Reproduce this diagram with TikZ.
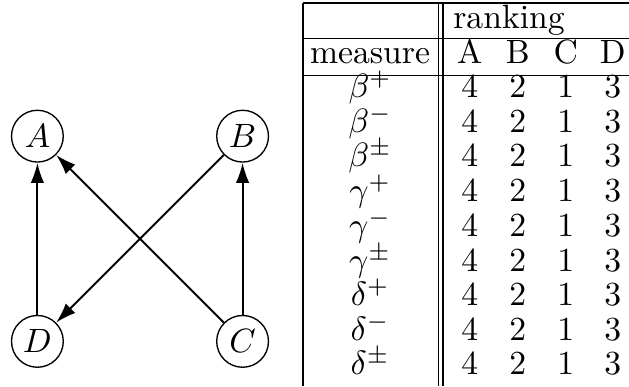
\documentclass[tikz,border=0pt]{standalone}
\usetikzlibrary{arrows.meta}

\begin{document}
\begin{tikzpicture}[x=1cm,y=1cm,
  vertex/.style={draw,circle,thin,minimum size=0.54cm,inner sep=0pt},
  link/.style={line width=0.6pt,-{Latex[length=6pt,width=4pt]}},
  cell/.style={anchor=base,inner sep=0pt}]
\path[use as bounding box] (0,0) rectangle (6.56,4.03);
% graph
\node[vertex] (A) at (0.39,2.61) {$A$};
\node[vertex] (B) at (2.53,2.61) {$B$};
\node[vertex] (D) at (0.39,0.47) {$D$};
\node[vertex] (C) at (2.53,0.47) {$C$};
\draw[link] (D) -- (A);
\draw[link] (C) -- (B);
\draw[link] (C) -- (A);
\draw[link] (B) -- (D);
% table rules
\draw (3.16,4.00) -- (6.56,4.00);
\draw (3.16,3.63) -- (6.56,3.63);
\draw (3.16,3.24) -- (6.56,3.24);
\draw (3.16,4.00) -- (3.16,0);
\draw (4.57,4.00) -- (4.57,0);
\draw (4.62,4.00) -- (4.62,0);
% header
\node[cell,anchor=base west] (rank) at (4.72,3.73) {ranking};
\node[cell] (meas) at (3.86,3.37) {measure};
\node[cell] (hA) at (4.90,3.37) {A};
\node[cell] (hB) at (5.40,3.37) {B};
\node[cell] (hC) at (5.90,3.37) {C};
\node[cell] (hD) at (6.39,3.37) {D};
% rows
\node[cell] (m1) at (3.86,3.01) {$\beta^{+}$};
\node[cell] (a1) at (4.90,3.01) {4}; \node[cell] (b1) at (5.40,3.01) {2}; \node[cell] (c1) at (5.90,3.01) {1}; \node[cell] (d1) at (6.39,3.01) {3};
\node[cell] (m2) at (3.86,2.65) {$\beta^{-}$};
\node[cell] (a2) at (4.90,2.65) {4}; \node[cell] (b2) at (5.40,2.65) {2}; \node[cell] (c2) at (5.90,2.65) {1}; \node[cell] (d2) at (6.39,2.65) {3};
\node[cell] (m3) at (3.86,2.29) {$\beta^{\pm}$};
\node[cell] (a3) at (4.90,2.29) {4}; \node[cell] (b3) at (5.40,2.29) {2}; \node[cell] (c3) at (5.90,2.29) {1}; \node[cell] (d3) at (6.39,2.29) {3};
\node[cell] (m4) at (3.86,1.93) {$\gamma^{+}$};
\node[cell] (a4) at (4.90,1.93) {4}; \node[cell] (b4) at (5.40,1.93) {2}; \node[cell] (c4) at (5.90,1.93) {1}; \node[cell] (d4) at (6.39,1.93) {3};
\node[cell] (m5) at (3.86,1.56) {$\gamma^{-}$};
\node[cell] (a5) at (4.90,1.56) {4}; \node[cell] (b5) at (5.40,1.56) {2}; \node[cell] (c5) at (5.90,1.56) {1}; \node[cell] (d5) at (6.39,1.56) {3};
\node[cell] (m6) at (3.86,1.20) {$\gamma^{\pm}$};
\node[cell] (a6) at (4.90,1.20) {4}; \node[cell] (b6) at (5.40,1.20) {2}; \node[cell] (c6) at (5.90,1.20) {1}; \node[cell] (d6) at (6.39,1.20) {3};
\node[cell] (m7) at (3.86,0.84) {$\delta^{+}$};
\node[cell] (a7) at (4.90,0.84) {4}; \node[cell] (b7) at (5.40,0.84) {2}; \node[cell] (c7) at (5.90,0.84) {1}; \node[cell] (d7) at (6.39,0.84) {3};
\node[cell] (m8) at (3.86,0.48) {$\delta^{-}$};
\node[cell] (a8) at (4.90,0.48) {4}; \node[cell] (b8) at (5.40,0.48) {2}; \node[cell] (c8) at (5.90,0.48) {1}; \node[cell] (d8) at (6.39,0.48) {3};
\node[cell] (m9) at (3.86,0.12) {$\delta^{\pm}$};
\node[cell] (a9) at (4.90,0.12) {4}; \node[cell] (b9) at (5.40,0.12) {2}; \node[cell] (c9) at (5.90,0.12) {1}; \node[cell] (d9) at (6.39,0.12) {3};
\end{tikzpicture}
\end{document}
